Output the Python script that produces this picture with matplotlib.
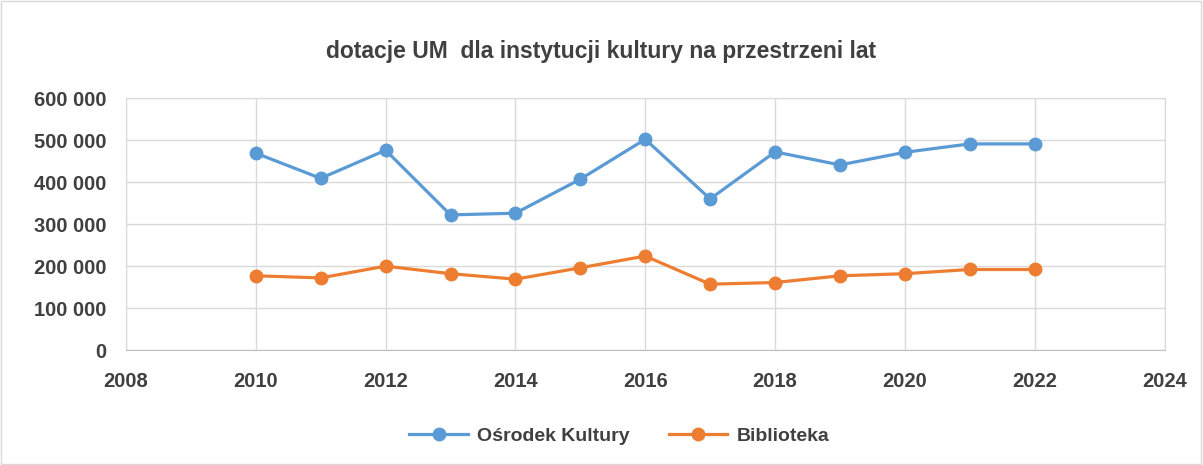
import matplotlib
matplotlib.use("Agg")
import matplotlib.pyplot as plt
from matplotlib.ticker import FuncFormatter, MultipleLocator
from matplotlib.patches import Rectangle

years = [2010, 2011, 2012, 2013, 2014, 2015, 2016, 2017, 2018, 2019, 2020, 2021, 2022]
osrodek = [469000, 409000, 476000, 322000, 326000, 407000, 502000, 360000, 472000, 441000, 471000, 491000, 491000]
biblioteka = [177000, 172000, 200000, 182000, 169000, 196000, 224000, 157000, 161000, 177000, 182000, 192000, 192000]
title = "dotacje UM  dla instytucji kultury na przestrzeni lat"
labels = ["Ośrodek Kultury", "Biblioteka"]

plt.rcParams['font.family'] = ['Liberation Sans Narrow', 'Liberation Sans', 'DejaVu Sans']
txt = '#404040'

fig = plt.figure(figsize=(12.03, 4.65), dpi=100)
ax = fig.add_axes([0.1047, 0.247, 0.8633, 0.542])

ax.plot(years, osrodek, color='#5B9BD5', lw=2.3, marker='o', ms=9, label=labels[0])
ax.plot(years, biblioteka, color='#ED7D31', lw=2.3, marker='o', ms=9, label=labels[1])

ax.set_xlim(2008, 2024)
ax.set_ylim(0, 600000)
ax.xaxis.set_major_locator(MultipleLocator(2))
ax.yaxis.set_major_locator(MultipleLocator(100000))
ax.yaxis.set_major_formatter(FuncFormatter(lambda v, p: f"{int(v):,}".replace(",", " ")))
ax.grid(True, color='#D9D9D9', lw=1)
ax.set_axisbelow(True)
for s in ax.spines.values():
    s.set_color('#D9D9D9')
ax.spines['bottom'].set_color('#BFBFBF')
ax.tick_params(length=0, labelsize=14.5, labelcolor=txt)
ax.tick_params(axis='x', pad=16)
ax.tick_params(axis='y', pad=14)
for lab in ax.get_xticklabels() + ax.get_yticklabels():
    lab.set_fontweight('bold')

fig.text(0.5, 0.89, title, ha='center', va='center', fontsize=16.5, fontweight='bold', color=txt)

leg = fig.legend(loc='center', bbox_to_anchor=(0.515, 0.062), ncol=2, frameon=False,
                 prop={'size': 14, 'weight': 'bold'}, handlelength=3.0, columnspacing=2.0,
                 handletextpad=0.5)
for t in leg.get_texts():
    t.set_color(txt)

fig.patches.append(Rectangle((0.001, 0.002), 0.997, 0.995, transform=fig.transFigure,
                             fill=False, edgecolor='#D9D9D9', lw=1))

fig.savefig('out.png', dpi=100)
